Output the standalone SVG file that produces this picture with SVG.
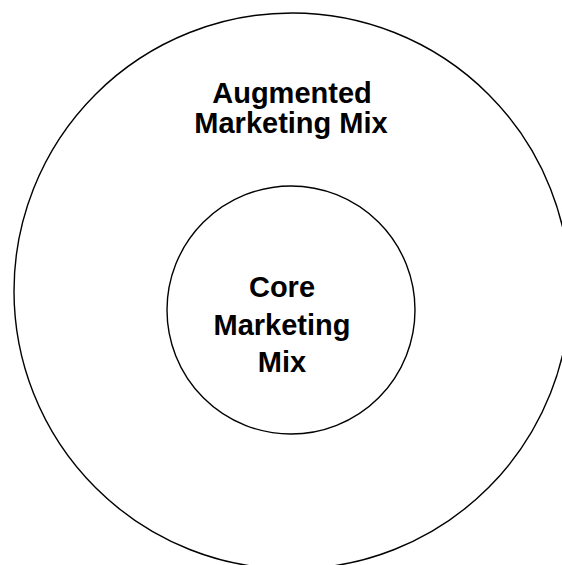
<svg xmlns="http://www.w3.org/2000/svg" width="562" height="565" viewBox="0 0 562 565">
  <style>
    .ring { fill: none; stroke: #000; stroke-width: 1.4; }
    .label { font-family: "Liberation Sans", Arial, sans-serif; font-weight: bold; font-size: 29px; fill: #000; text-anchor: middle; }
  </style>
  <rect width="562" height="565" fill="#fff"/>
  <!-- outer ring: augmented mix -->
  <g id="augmented">
    <circle class="ring" cx="292" cy="291" r="278"/>
    <text class="label" x="292" y="103">Augmented</text>
    <text class="label" x="291" y="133">Marketing Mix</text>
  </g>
  <!-- inner ring: core mix -->
  <g id="core">
    <circle class="ring" cx="291" cy="310" r="124"/>
    <text class="label" x="282" y="297">Core</text>
    <text class="label" x="282" y="335">Marketing</text>
    <text class="label" x="282" y="372">Mix</text>
  </g>
</svg>
